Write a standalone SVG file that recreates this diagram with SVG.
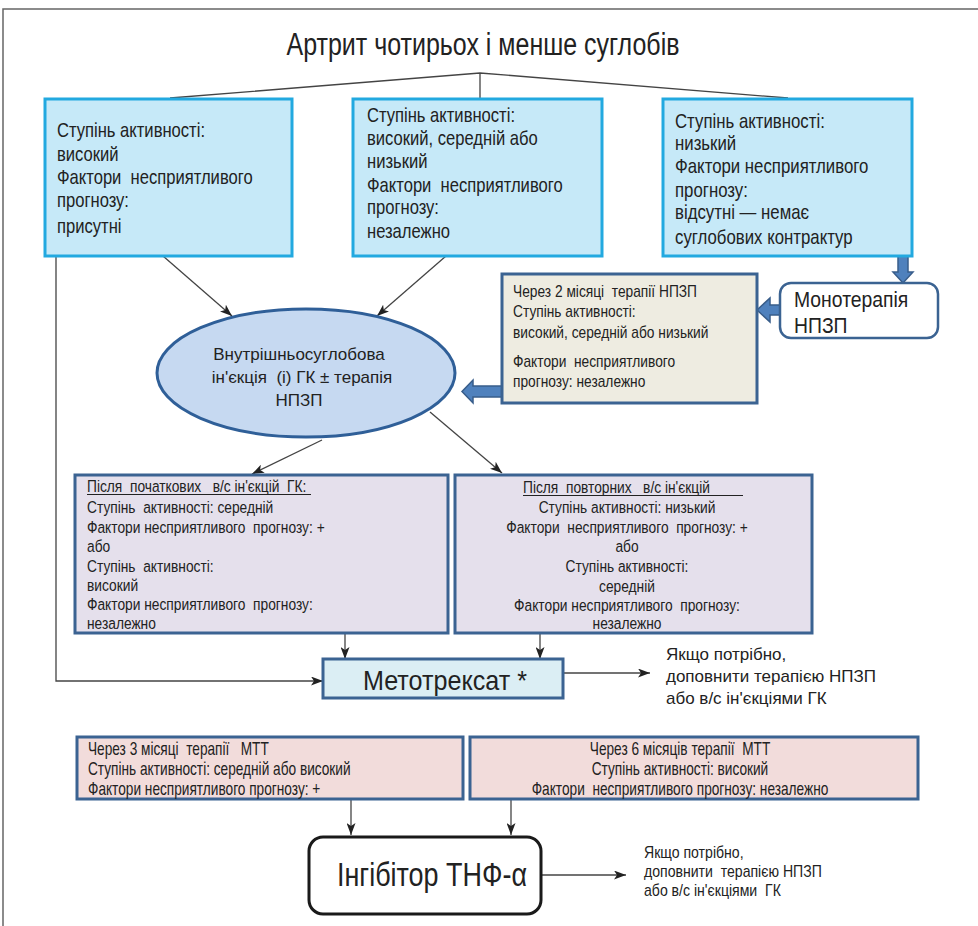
<svg xmlns="http://www.w3.org/2000/svg" width="978" height="926" viewBox="0 0 978 926">
<defs>
<marker id="ah" markerUnits="userSpaceOnUse" markerWidth="13" markerHeight="9" refX="12" refY="4.5" orient="auto">
<path d="M0,0 L12,4.5 L0,9 L3,4.5 z" fill="#222"/>
</marker>
<style>
text{font-family:"Liberation Sans",Arial,sans-serif;fill:#222;white-space:pre}
.t20{font-size:20px}
.t16{font-size:16px}
.t17{font-size:17px}
.t18{font-size:18px}
.c{text-anchor:middle}
.top{fill:#c6e9f8;stroke:#22a9e0;stroke-width:3}
.dk{stroke:#3b6392;stroke-width:3}
.con{fill:none;stroke:#444;stroke-width:1.3}
.fat{fill:#4f81bd;stroke:#385d8a;stroke-width:1.5}
</style>
</defs>
<rect x="0" y="0" width="978" height="926" fill="#fff"/>
<path d="M3,926 V9 H978" fill="none" stroke="#666" stroke-width="1.5"/>

<g id="title"><text x="483" y="55" class="c" style="font-size:31px" textLength="393" lengthAdjust="spacingAndGlyphs">Артрит чотирьох і менше суглобів</text></g>

<g id="connectors">
<path class="con" d="M170,98 L480,73 L788,98 M480,73 V98"/>
<line class="con" x1="163" y1="256" x2="232" y2="316" marker-end="url(#ah)"/>
<line class="con" x1="446" y1="256" x2="377" y2="316" marker-end="url(#ah)"/>
<line class="con" x1="322" y1="440" x2="252" y2="474" marker-end="url(#ah)"/>
<line class="con" x1="430" y1="412" x2="502" y2="473" marker-end="url(#ah)"/>
<line class="con" x1="345" y1="633" x2="345" y2="659" marker-end="url(#ah)"/>
<line class="con" x1="540" y1="633" x2="540" y2="659" marker-end="url(#ah)"/>
<path class="con" d="M56,256 V681 H323" marker-end="url(#ah)"/>
<line class="con" x1="563" y1="673" x2="650" y2="673" marker-end="url(#ah)"/>
<line class="con" x1="351" y1="800" x2="351" y2="835" marker-end="url(#ah)"/>
<line class="con" x1="511" y1="800" x2="511" y2="835" marker-end="url(#ah)"/>
<line class="con" x1="541" y1="875" x2="626" y2="875" marker-end="url(#ah)"/>
<path class="fat" d="M898,256 H908 V272 H913 L903,283 L893,272 H898 Z"/>
<path class="fat" d="M780,305 V315 H770 V322 L757,310 L770,298 V305 Z"/>
<path class="fat" d="M502,386 V397 H473 V403 L462,391.5 L473,380 V386 Z"/>
</g>

<g id="box1">
<rect class="top" x="45" y="99" width="247" height="157"/>
<g transform="translate(57,0) scale(0.83,1)">
<text class="t20" x="0" y="137">Ступінь активності:</text>
<text class="t20" x="0" y="161">високий</text>
<text class="t20" x="0" y="184">Фактори  несприятливого</text>
<text class="t20" x="0" y="207">прогнозу:</text>
<text class="t20" x="0" y="233">присутні</text>
</g>
</g>

<g id="box2">
<rect class="top" x="353" y="99" width="249" height="157"/>
<g transform="translate(367,0) scale(0.83,1)">
<text class="t20" x="0" y="122">Ступінь активності:</text>
<text class="t20" x="0" y="145">високий, середній або</text>
<text class="t20" x="0" y="168">низький</text>
<text class="t20" x="0" y="192">Фактори  несприятливого</text>
<text class="t20" x="0" y="214">прогнозу:</text>
<text class="t20" x="0" y="238">незалежно</text>
</g>
</g>

<g id="box3">
<rect class="top" x="663" y="99" width="249" height="157"/>
<g transform="translate(675,0) scale(0.84,1)">
<text class="t20" x="0" y="128">Ступінь активності:</text>
<text class="t20" x="0" y="150">низький</text>
<text class="t20" x="0" y="173">Фактори несприятливого</text>
<text class="t20" x="0" y="197">прогнозу:</text>
<text class="t20" x="0" y="219">відсутні — немає</text>
<text class="t20" x="0" y="244">суглобових контрактур</text>
</g>
</g>

<g id="mono">
<rect x="780" y="283" width="158" height="55" rx="11" fill="#fff" stroke="#3b6392" stroke-width="2.5"/>
<g transform="translate(794,0) scale(0.88,1)">
<text x="0" y="307" style="font-size:22px">Монотерапія</text>
<text x="0" y="333" style="font-size:22px">НПЗП</text>
</g>
</g>

<g id="beige">
<rect class="dk" x="502" y="274" width="255" height="129" fill="#eeece1"/>
<g transform="translate(513,0) scale(0.86,1)">
<text class="t16" x="0" y="297">Через 2 місяці  терапії НПЗП</text>
<text class="t16" x="0" y="317">Ступінь активності:</text>
<text class="t16" x="0" y="338">високий, середній або низький</text>
<text class="t16" x="0" y="367">Фактори  несприятливого</text>
<text class="t16" x="0" y="387">прогнозу: незалежно</text>
</g>
</g>

<g id="ellipse">
<ellipse cx="306" cy="373" rx="149" ry="64" fill="#c6d9f1" stroke="#2f5f98" stroke-width="3"/>
<text class="c t17" x="299" y="360">Внутрішньосуглобова</text>
<text class="c t17" x="302" y="383">ін'єкція  (і) ГК ± терапія</text>
<text class="c t17" x="299" y="406">НПЗП</text>
</g>

<g id="left_purple">
<rect class="dk" x="75" y="475" width="373" height="158" fill="#e5e0ec"/>
<g transform="translate(87,0) scale(0.81,1)">
<text class="t17" x="0" y="492">Після  початкових   в/с ін'єкцій  ГК:</text>
<text class="t17" x="0" y="513">Ступінь  активності: середній</text>
<text class="t17" x="0" y="533">Фактори несприятливого  прогнозу: +</text>
<text class="t17" x="0" y="552">або</text>
<text class="t17" x="0" y="572">Ступінь  активності:</text>
<text class="t17" x="0" y="591">високий</text>
<text class="t17" x="0" y="610">Фактори несприятливого  прогнозу:</text>
<text class="t17" x="0" y="629">незалежно</text>
</g>
<line x1="87" y1="494.5" x2="311" y2="494.5" stroke="#222" stroke-width="1"/>
</g>

<g id="right_purple">
<rect class="dk" x="455" y="475" width="357" height="158" fill="#e5e0ec"/>
<g transform="translate(523,0) scale(0.81,1)">
<text class="t17" x="0" y="493">Після  повторних   в/с ін'єкцій</text>
</g>
<line x1="523" y1="495.5" x2="743" y2="495.5" stroke="#222" stroke-width="1"/>
<g transform="translate(627,0) scale(0.81,1)">
<text class="t17 c" x="0" y="513">Ступінь активності: низький</text>
<text class="t17 c" x="0" y="533">Фактори  несприятливого  прогнозу: +</text>
<text class="t17 c" x="0" y="552">або</text>
<text class="t17 c" x="0" y="572">Ступінь активності:</text>
<text class="t17 c" x="0" y="592">середній</text>
<text class="t17 c" x="0" y="611">Фактори несприятливого  прогнозу:</text>
<text class="t17 c" x="0" y="629">незалежно</text>
</g>
</g>

<g id="mtx">
<rect class="dk" x="323" y="659" width="240" height="39" fill="#dbeef4"/>
<text class="c" x="445" y="690" style="font-size:28px" textLength="164" lengthAdjust="spacingAndGlyphs">Метотрексат *</text>
</g>

<g id="note1">
<text class="t17" x="666" y="660">Якщо потрібно,</text>
<text class="t17" x="666" y="682">доповнити терапією НПЗП</text>
<text class="t17" x="666" y="704">або в/с ін'єкціями ГК</text>
</g>

<g id="left_pink">
<rect class="dk" x="77" y="737" width="386" height="62" fill="#f2dcdb"/>
<g transform="translate(88,0) scale(0.76,1)">
<text class="t18" x="0" y="755">Через 3 місяці  терапії   МТТ</text>
<text class="t18" x="0" y="775">Ступінь активності: середній або високий</text>
<text class="t18" x="0" y="795">Фактори несприятливого прогнозу: +</text>
</g>
</g>

<g id="right_pink">
<rect class="dk" x="470" y="737" width="448" height="62" fill="#f2dcdb"/>
<g transform="translate(680,0) scale(0.76,1)">
<text class="t18 c" x="0" y="755">Через 6 місяців терапії  МТТ</text>
<text class="t18 c" x="0" y="775">Ступінь активності: високий</text>
<text class="t18 c" x="0" y="795">Фактори  несприятливого прогнозу: незалежно</text>
</g>
</g>

<g id="tnf">
<rect x="309" y="837" width="232" height="77" rx="14" fill="#fff" stroke="#1a1a1a" stroke-width="3"/>
<text class="c" x="432" y="886" style="font-size:33px" textLength="190" lengthAdjust="spacingAndGlyphs">Інгібітор ТНФ-α</text>
</g>

<g id="note2">
<g transform="translate(644,0) scale(0.88,1)">
<text class="t16" x="0" y="858">Якщо потрібно,</text>
<text class="t16" x="0" y="877">доповнити  терапією НПЗП</text>
<text class="t16" x="0" y="896">або в/с ін'єкціями  ГК</text>
</g>
</g>
</svg>
